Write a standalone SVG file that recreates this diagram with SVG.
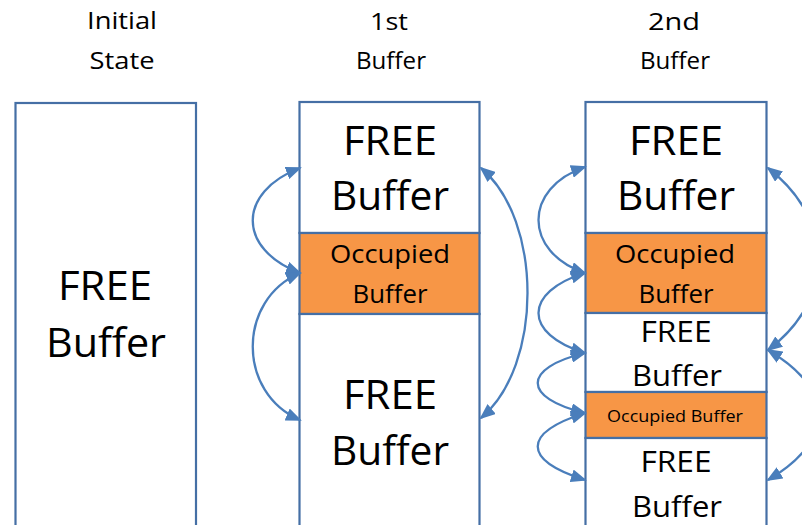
<svg xmlns="http://www.w3.org/2000/svg" width="802" height="525" viewBox="0 0 802 525">
  <style>
    .title { font-family: "Open Sans", "Liberation Sans", sans-serif; font-size: 24px; fill: #000; text-anchor: middle; }
    .big { font-family: "Open Sans", "Liberation Sans", sans-serif; font-size: 40px; fill: #000; text-anchor: middle; }
    .mid { font-family: "Open Sans", "Liberation Sans", sans-serif; font-size: 30px; fill: #000; text-anchor: middle; }
    .occ { font-family: "Open Sans", "Liberation Sans", sans-serif; font-size: 25px; fill: #000; text-anchor: middle; }
    .occs { font-family: "Open Sans", "Liberation Sans", sans-serif; font-size: 17px; fill: #000; text-anchor: middle; }
    .free { fill: #ffffff; stroke: #456fa5; stroke-width: 2.2; }
    .used { fill: #f79646; stroke: #456fa5; stroke-width: 2.2; }
    .link { fill: none; stroke: #4a7ebb; stroke-width: 2.3; marker-start: url(#head); marker-end: url(#head); }
  </style>
  <defs>
    <marker id="head" markerUnits="userSpaceOnUse" markerWidth="16" markerHeight="13" refX="14" refY="6.5" orient="auto-start-reverse">
      <path d="M0,0 L16,6.5 L0,13 Z" fill="#4a7ebb"/>
    </marker>
  </defs>

  <rect width="802" height="525" fill="#ffffff"/>

  <!-- column headings -->
  <g id="title-initial">
    <text class="title" x="122" y="29" textLength="70" lengthAdjust="spacingAndGlyphs">Initial</text>
    <text class="title" x="122" y="69" textLength="65" lengthAdjust="spacingAndGlyphs">State</text>
  </g>
  <g id="title-first">
    <text class="title" x="389" y="30" textLength="38" lengthAdjust="spacingAndGlyphs">1st</text>
    <text class="title" x="391" y="69" textLength="70" lengthAdjust="spacingAndGlyphs">Buffer</text>
  </g>
  <g id="title-second">
    <text class="title" x="674" y="30" textLength="52" lengthAdjust="spacingAndGlyphs">2nd</text>
    <text class="title" x="675" y="69" textLength="70" lengthAdjust="spacingAndGlyphs">Buffer</text>
  </g>

  <!-- initial state: one free block -->
  <g id="initial-free">
    <rect class="free" x="15.5" y="103" width="180.5" height="440"/>
    <text class="big" x="105" y="300" textLength="94" lengthAdjust="spacingAndGlyphs">FREE</text>
    <text class="big" x="106" y="357" textLength="120" lengthAdjust="spacingAndGlyphs">Buffer</text>
  </g>

  <!-- after the 1st buffer -->
  <g id="first-free-top">
    <rect class="free" x="299.5" y="102" width="180" height="131"/>
    <text class="big" x="390" y="155" textLength="94" lengthAdjust="spacingAndGlyphs">FREE</text>
    <text class="big" x="390" y="210" textLength="118" lengthAdjust="spacingAndGlyphs">Buffer</text>
  </g>
  <g id="first-used">
    <rect class="used" x="299.5" y="233" width="180" height="81"/>
    <text class="occ" x="390" y="263" textLength="120" lengthAdjust="spacingAndGlyphs">Occupied</text>
    <text class="occ" x="390" y="303" textLength="75" lengthAdjust="spacingAndGlyphs">Buffer</text>
  </g>
  <g id="first-free-bottom">
    <rect class="free" x="299.5" y="314" width="180" height="230"/>
    <text class="big" x="390" y="409" textLength="94" lengthAdjust="spacingAndGlyphs">FREE</text>
    <text class="big" x="390" y="465" textLength="118" lengthAdjust="spacingAndGlyphs">Buffer</text>
  </g>

  <!-- after the 2nd buffer -->
  <g id="second-free-top">
    <rect class="free" x="585.5" y="102" width="181" height="131"/>
    <text class="big" x="676" y="155" textLength="94" lengthAdjust="spacingAndGlyphs">FREE</text>
    <text class="big" x="676" y="210" textLength="118" lengthAdjust="spacingAndGlyphs">Buffer</text>
  </g>
  <g id="second-used-a">
    <rect class="used" x="585.5" y="233" width="181" height="80"/>
    <text class="occ" x="675" y="263" textLength="120" lengthAdjust="spacingAndGlyphs">Occupied</text>
    <text class="occ" x="676" y="303" textLength="75" lengthAdjust="spacingAndGlyphs">Buffer</text>
  </g>
  <g id="second-free-mid">
    <rect class="free" x="585.5" y="313" width="181" height="79"/>
    <text class="mid" x="676" y="342" textLength="71" lengthAdjust="spacingAndGlyphs">FREE</text>
    <text class="mid" x="677" y="386" textLength="90" lengthAdjust="spacingAndGlyphs">Buffer</text>
  </g>
  <g id="second-used-b">
    <rect class="used" x="585.5" y="392" width="181" height="46"/>
    <text class="occs" x="675" y="422" textLength="136" lengthAdjust="spacingAndGlyphs">Occupied Buffer</text>
  </g>
  <g id="second-free-bottom">
    <rect class="free" x="585.5" y="438" width="181" height="105"/>
    <text class="mid" x="676" y="472" textLength="71" lengthAdjust="spacingAndGlyphs">FREE</text>
    <text class="mid" x="677" y="517" textLength="90" lengthAdjust="spacingAndGlyphs">Buffer</text>
  </g>

  <!-- free-list links -->
  <g id="connectors">
    <path class="link" d="M300,168 C237,192 237,249 300,273"/>
    <path class="link" d="M300,273 C237,300 237,393 300,420"/>
    <path class="link" d="M481,168 C543,220 543,366 481,418"/>
    <path class="link" d="M585,167 C523,188 523,252 585,273"/>
    <path class="link" d="M585,273 C523,292 523,334 585,353"/>
    <path class="link" d="M585,353 C522,368 522,398 585,413"/>
    <path class="link" d="M585,413 C522,433 522,460 585,480"/>
    <path class="link" d="M768,168 C835,220 835,300 768,350"/>
    <path class="link" d="M768,350 C835,390 835,440 768,480"/>
  </g>
</svg>
